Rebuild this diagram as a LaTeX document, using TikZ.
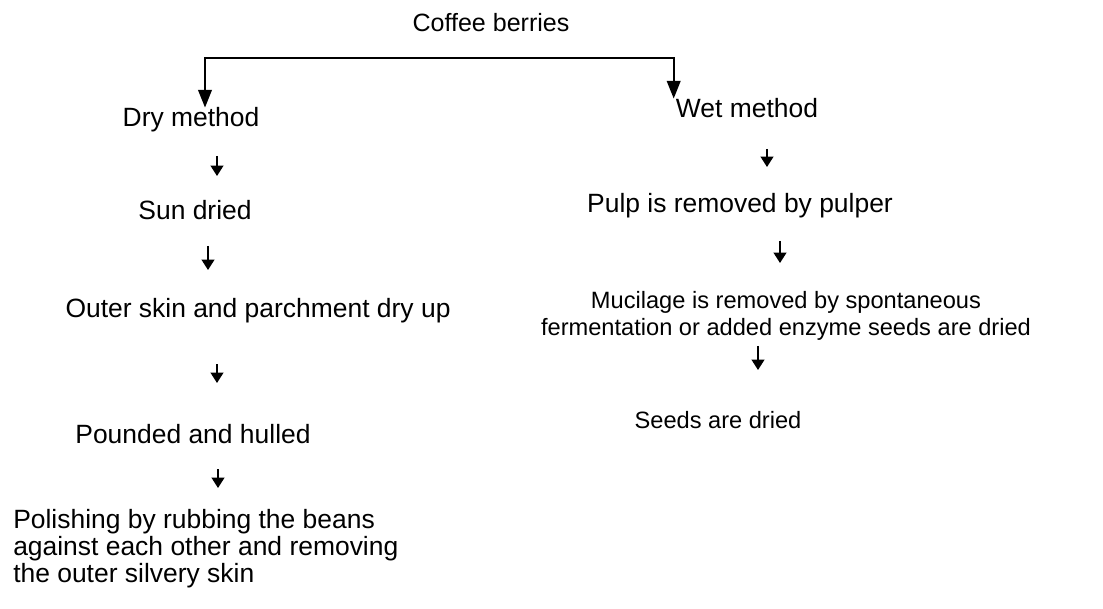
\documentclass[tikz,border=0pt]{standalone}
\usepackage{fontspec}
\setmainfont{Liberation Sans}
\usetikzlibrary{arrows.meta}

\begin{document}
\begin{tikzpicture}[
    x=0.025cm, y=-0.025cm,
    txt/.style={inner sep=0pt, font=\fontsize{18.8}{19.2}\selectfont},
    small/.style={inner sep=0pt, font=\fontsize{16.8}{19.2}\selectfont},
    split/.style={{Triangle[length=4.4mm,width=3.4mm]}-{Triangle[length=4.4mm,width=3.4mm]}, line width=1.3pt},
    down/.style={-{Triangle[length=2.6mm,width=3.2mm]}, line width=1.2pt}
  ]
    \useasboundingbox (0,0) rectangle (1103,609);

    \node[txt, anchor=base, font=\fontsize{17.8}{19.2}\selectfont] (coffee) at (491,32) {Coffee berries};
    \coordinate (bar) at (491,58);

    \node[txt, anchor=base] (dry)   at (191,127) {Dry method};
    \node[txt, anchor=base] (sun)   at (195,220) {Sun dried};
    \node[txt, anchor=base] (outer) at (258,318) {Outer skin and parchment dry up};
    \node[txt, anchor=base] (pound) at (193,443) {Pounded and hulled};
    \node[txt, anchor=north west, align=left] (polish) at (13,509)
        {Polishing by rubbing the beans\\against each other and removing\\the outer silvery skin};

    \node[txt, anchor=base] (wet)  at (747,118) {Wet method};
    \node[txt, anchor=base] (pulp) at (740,213) {Pulp is removed by pulper};
    \node[small, anchor=north, align=center] (mucil) at (786,291)
        {Mucilage is removed by spontaneous\\fermentation or added enzyme seeds are dried};
    \node[small, anchor=base] (seeds) at (718,428) {Seeds are dried};

    \draw[split] ([xshift=0.35cm]dry.north) |- (bar) -| ([xshift=-0.05cm]wet.north west);

    \foreach \n/\x/\ya/\yb in {1/217/156/176, 2/208/246/270, 3/217/364/383, 4/218/469/488,
                               5/767/149/167, 6/780/241/263, 7/758/346/370} {
      \coordinate (t\n) at (\x,\ya);
      \coordinate (h\n) at (\x,\yb);
      \draw[down] (t\n) -- (h\n);
    }
  \end{tikzpicture}
\end{document}
